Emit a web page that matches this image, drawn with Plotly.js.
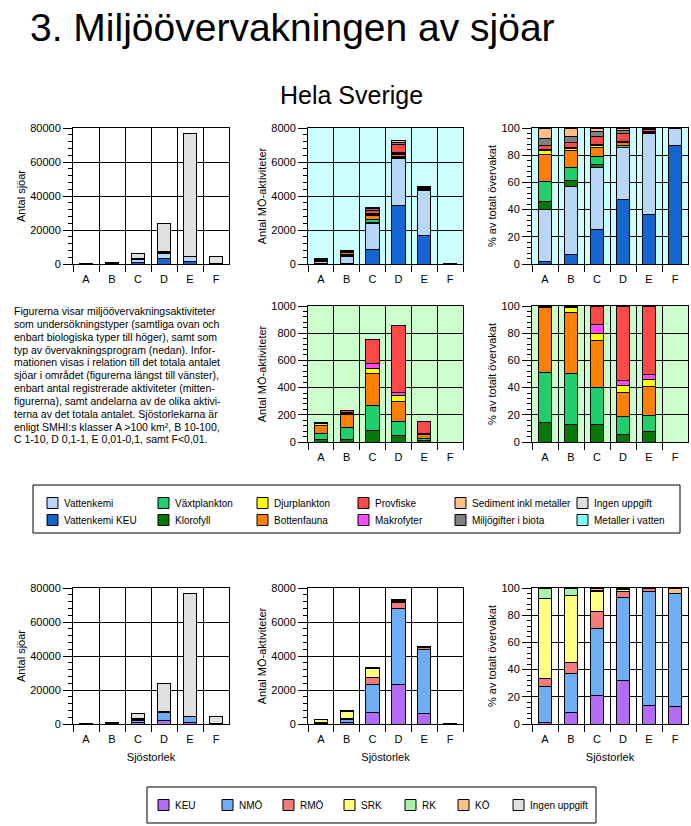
<!DOCTYPE html>
<html><head><meta charset="utf-8">
<script src="https://cdn.plot.ly/plotly-3.0.1.min.js"></script>
<style>html,body{margin:0;padding:0;background:#fff}#chart{width:691px;height:826px}</style>
</head><body><div id="chart"></div>
<script>
// ---------- DATA ----------
const categories = ['A','B','C','D','E','F'];

// Undersökningstyper, stack order bottom -> top
const typNamn = ['Vattenkemi KEU','Vattenkemi','Klorofyll','Växtplankton','Bottenfauna','Djurplankton','Makrofyter','Provfiske','Miljögifter i biota','Sediment inkl metaller'];
// Antal MÖ-aktiviteter per typ (rows follow typNamn, columns A..F)
const antalAktiviteter = [
  [5, 54, 845, 3440, 1650, 40],
  [116, 392, 1520, 2760, 2700, 6],
  [16, 33, 97, 50, 9, null],
  [46, 78, 174, 73, 18, null],
  [59, 97, 245, 145, 32, null],
  [10, 9, 34, 50, 9, null],
  [1, 3, 40, 36, 4, null],
  [10, 29, 174, 450, 77, null],
  [16, 34, 137, 150, 23, null],
  [22, 51, 84, 110, 18, null]
];
// % av totalt övervakat per typ
const andelAktiviteter = [
  [1.5, 6.9, 25.2, 47.3, 36.3, 87.0],
  [38.7, 50.2, 45.4, 38.0, 59.5, 13.0],
  [5.4, 4.2, 2.9, 0.7, 0.2, null],
  [15.2, 10.0, 5.2, 1.0, 0.4, null],
  [19.8, 12.5, 7.3, 2.0, 0.7, null],
  [3.2, 1.2, 1.0, 0.7, 0.2, null],
  [0.3, 0.3, 1.2, 0.5, 0.1, null],
  [3.2, 3.7, 5.2, 5.6, 1.7, null],
  [5.3, 4.4, 4.1, 2.2, 0.5, null],
  [7.4, 6.6, 2.5, 2.0, 0.4, null]
];
// Sjöar utan uppgift (antal sjöar)
const ingenUppgiftTyp = [null, 100, 2550, 16850, 72460, 4654];

// Biologiska typer, stack order bottom -> top
const bioNamn = ['Klorofyll','Växtplankton','Bottenfauna','Djurplankton','Makrofyter','Provfiske'];
const antalBio = [
  [18, 22, 84, 45, 10, null],
  [43, 82, 181, 106, 15, null],
  [60, 96, 236, 150, 29, null],
  [12, 8, 38, 38, 7, null],
  [2, 10, 38, 28, 5, null],
  [6, 17, 176, 490, 84, null]
];
const andelBio = [
  [14.7, 12.7, 12.7, 5.4, 7.6, null],
  [36.6, 37.9, 27.6, 13.2, 12.2, null],
  [47.7, 44.8, 34.5, 18.1, 21.0, null],
  [0.3, 3.6, 5.2, 4.9, 5.4, null],
  [0.2, 0.4, 6.1, 3.4, 3.2, null],
  [0.5, 0.6, 13.9, 55.0, 50.6, null]
];

// Övervakningsprogram, stack order bottom -> top
const programNamn = ['KEU','NMÖ','RMÖ','SRK','RK','KÖ'];
const antalProgram = [
  [3, 62, 670, 2340, 640, 6],
  [77, 222, 1660, 4450, 3740, 42],
  [17, 62, 420, 330, 120, null],
  [172, 390, 500, 110, 20, null],
  [21, 39, 50, 30, 10, null],
  [null, 5, 50, 40, 20, 2]
];
const andelProgram = [
  [1.2, 8.1, 20.6, 32.1, 13.7, 13.0],
  [26.5, 28.7, 49.3, 61.0, 83.4, 83.3],
  [5.9, 8.1, 12.5, 4.0, 2.4, null],
  [59.0, 49.7, 14.7, 1.9, 0.2, null],
  [7.4, 4.7, 1.4, 0.3, 0.1, null],
  [null, 0.7, 1.5, 0.7, 0.2, 3.7]
];
const ingenUppgiftProgram = [null, 100, 2550, 16820, 72450, 4650];

// Legend layouts (names)
const typLegend = [
  ['Vattenkemi','Vattenkemi KEU'],
  ['Växtplankton','Klorofyll'],
  ['Djurplankton','Bottenfauna'],
  ['Provfiske','Makrofyter'],
  ['Sediment inkl metaller','Miljögifter i biota'],
  ['Ingen uppgift','Metaller i vatten']
];
const programLegend = ['KEU','NMÖ','RMÖ','SRK','RK','KÖ','Ingen uppgift'];

const textRader = [
  'Figurerna visar miljöövervakningsaktiviteter',
  'som undersökningstyper (samtliga ovan och',
  'enbart biologiska typer till höger), samt som',
  'typ av övervakningsprogram (nedan). Infor-',
  'mationen visas i relation till det totala antalet',
  'sjöar i området (figurerna längst till vänster),',
  'enbart antal registrerade aktiviteter (mitten-',
  'figurerna), samt andelarna av de olika aktivi-',
  'terna av det totala antalet. Sjöstorlekarna är',
  'enligt SMHI:s klasser A >100 km², B 10-100,',
  'C 1-10, D 0,1-1, E 0,01-0,1, samt F<0,01.'
];

// ---------- STYLE ----------
const typFarg = {
  'Vattenkemi':'#B8D6F6', 'Vattenkemi KEU':'#1464D2', 'Växtplankton':'#1ECF6C', 'Klorofyll':'#087808',
  'Djurplankton':'#FFFF00', 'Bottenfauna':'#FF8000', 'Provfiske':'#FF4848', 'Makrofyter':'#FF48FF',
  'Sediment inkl metaller':'#FFC088', 'Miljögifter i biota':'#808080', 'Ingen uppgift':'#E0E0E0',
  'Metaller i vatten':'#80FFFF'
};
const programFarg = {
  'KEU':'#B26CF4', 'NMÖ':'#6EAEF4', 'RMÖ':'#F27C7C', 'SRK':'#FFFF80', 'RK':'#A8F2A8', 'KÖ':'#FFC088',
  'Ingen uppgift':'#E0E0E0'
};
const FONT = 'Liberation Sans, Arial, sans-serif';
const W = 691, H = 826;
const px = x => x / W;
const py = y => 1 - y / H;

const colPx = [[73,229],[308,463],[532,688]];
const rowPx = [[128,264],[306,442],[588,724]];

function stack(names, rows, colors, n) {
  return names.map((nm, i) => ({
    type:'bar', x:categories, y:rows[i], name:nm,
    xaxis: n === 1 ? 'x' : 'x' + n, yaxis: n === 1 ? 'y' : 'y' + n,
    marker:{color:colors[nm], line:{color:'#000', width:1}},
    showlegend:false, hovertemplate:'%{x}: %{y}<extra>' + nm + '</extra>'
  }));
}
function single(name, vals, color, n) {
  return {type:'bar', x:categories, y:vals, name:name,
    xaxis:'x' + (n === 1 ? '' : n), yaxis:'y' + (n === 1 ? '' : n),
    marker:{color:color, line:{color:'#000', width:1}}, showlegend:false};
}

const traces = [].concat(
  stack(typNamn, antalAktiviteter, typFarg, 1),
  [single('Ingen uppgift', ingenUppgiftTyp, typFarg['Ingen uppgift'], 1)],
  stack(typNamn, antalAktiviteter, typFarg, 2),
  stack(typNamn, andelAktiviteter, typFarg, 3),
  stack(bioNamn, antalBio, typFarg, 4),
  stack(bioNamn, andelBio, typFarg, 5),
  stack(programNamn, antalProgram, programFarg, 6),
  [single('Ingen uppgift', ingenUppgiftProgram, programFarg['Ingen uppgift'], 6)],
  stack(programNamn, antalProgram, programFarg, 7),
  stack(programNamn, andelProgram, programFarg, 8)
);

const CYAN = '#CCFFFF', GREEN = '#CCFFCC';
const specs = [
  {c:0, r:0, max:80000, dt:20000, mn:4000, t:'Antal sjöar', bg:null},
  {c:1, r:0, max:8000, dt:2000, mn:400, t:'Antal MÖ-aktiviteter', bg:CYAN},
  {c:2, r:0, max:100, dt:20, mn:4, t:'% av totalt övervakat', bg:CYAN},
  {c:1, r:1, max:1000, dt:200, mn:40, t:'Antal MÖ-aktiviteter', bg:GREEN},
  {c:2, r:1, max:100, dt:20, mn:4, t:'% av totalt övervakat', bg:GREEN},
  {c:0, r:2, max:80000, dt:20000, mn:4000, t:'Antal sjöar', bg:null, xt:'Sjöstorlek'},
  {c:1, r:2, max:8000, dt:2000, mn:400, t:'Antal MÖ-aktiviteter', bg:null, xt:'Sjöstorlek'},
  {c:2, r:2, max:100, dt:20, mn:4, t:'% av totalt övervakat', bg:null, xt:'Sjöstorlek'}
];

const layout = {
  width:W, height:H, margin:{l:0, r:0, t:0, b:0},
  paper_bgcolor:'#fff', plot_bgcolor:'rgba(0,0,0,0)',
  barmode:'stack', bargap:0.48, showlegend:false,
  font:{family:FONT, size:11, color:'#000'},
  title:{text:'3. Miljöövervakningen av sjöar', xref:'container', yref:'container',
    x:px(30), xanchor:'left', y:py(27), yanchor:'middle',
    font:{family:FONT, size:39, color:'#000'}},
  shapes:[], annotations:[]
};

specs.forEach((s, i) => {
  const n = i + 1, k = n === 1 ? '' : n;
  const [x0, x1] = colPx[s.c], [y0, y1] = rowPx[s.r];
  layout['xaxis' + k] = {
    type:'category', categoryorder:'array', categoryarray:categories, range:[-0.5, 5.5],
    domain:[px(x0), px(x1)], anchor:'y' + k, tickson:'boundaries',
    ticks:'outside', ticklen:7, tickcolor:'#000', tickwidth:1, ticklabelstandoff:5,
    showgrid:true, gridcolor:'#000', gridwidth:1,
    showline:true, mirror:true, linecolor:'#000', linewidth:1,
    tickfont:{family:FONT, size:11, color:'#000'}, fixedrange:true,
    title: s.xt ? {text:s.xt, standoff:9, font:{family:FONT, size:11, color:'#000'}} : {text:''}
  };
  layout['yaxis' + k] = {
    range:[0, s.max], tick0:0, dtick:s.dt, tickformat:'d', domain:[py(y1), py(y0)], anchor:'x' + k,
    ticks:'outside', ticklen:9, tickcolor:'#000', tickwidth:1,
    minor:{dtick:s.mn, tick0:0, ticks:'outside', ticklen:4, tickcolor:'#000', tickwidth:1, showgrid:false},
    showgrid:true, gridcolor:'#000', gridwidth:1, zeroline:false,
    showline:true, mirror:true, linecolor:'#000', linewidth:1,
    tickfont:{family:FONT, size:11, color:'#000'}, fixedrange:true,
    title:{text:s.t, standoff:2, font:{family:FONT, size:11, color:'#000'}}
  };
  if (s.bg) {
    layout.shapes.push({type:'rect', xref:'paper', yref:'paper', layer:'below',
      x0:px(x0), x1:px(x1), y0:py(y1), y1:py(y0), fillcolor:s.bg, line:{width:0}});
  }
});

// Heading
layout.annotations.push({text:'Hela Sverige', xref:'paper', yref:'paper', x:px(352), y:py(95),
  xanchor:'center', yanchor:'middle', showarrow:false, font:{family:FONT, size:25, color:'#000'}});

// Paragraph
textRader.forEach((t, i) => {
  layout.annotations.push({text:t, xref:'paper', yref:'paper', x:px(12), y:py(311 + i * 12.85),
    xanchor:'left', yanchor:'middle', showarrow:false, font:{family:FONT, size:10.5, color:'#000'}});
});

// Legend helpers
function legendItem(name, color, x, y) {
  layout.shapes.push({type:'rect', xref:'paper', yref:'paper', layer:'above',
    x0:px(x), x1:px(x + 11), y0:py(y + 5.5), y1:py(y - 5.5), fillcolor:color, line:{color:'#000', width:1}});
  layout.annotations.push({text:name, xref:'paper', yref:'paper', x:px(x + 15), y:py(y),
    xanchor:'left', yanchor:'middle', showarrow:false, font:{family:FONT, size:10, color:'#000'}});
}
// Top legend box
layout.shapes.push({type:'rect', xref:'paper', yref:'paper', x0:px(33), x1:px(680), y0:py(533), y1:py(485),
  line:{color:'#000', width:1}, fillcolor:'rgba(0,0,0,0)'});
const typLegX = [47, 158, 257, 358, 455, 577], typLegY = [503, 520];
typLegend.forEach((col, ci) => col.forEach((nm, ri) => legendItem(nm, typFarg[nm], typLegX[ci], typLegY[ri])));
// Bottom legend box
layout.shapes.push({type:'rect', xref:'paper', yref:'paper', x0:px(147), x1:px(596), y0:py(823), y1:py(787),
  line:{color:'#000', width:1}, fillcolor:'rgba(0,0,0,0)'});
const progLegX = [158, 222, 283, 344, 405, 458, 513];
programLegend.forEach((nm, i) => legendItem(nm, programFarg[nm], progLegX[i], 805));

Plotly.newPlot('chart', traces, layout, {staticPlot:true, displayModeBar:false});
</script></body></html>
